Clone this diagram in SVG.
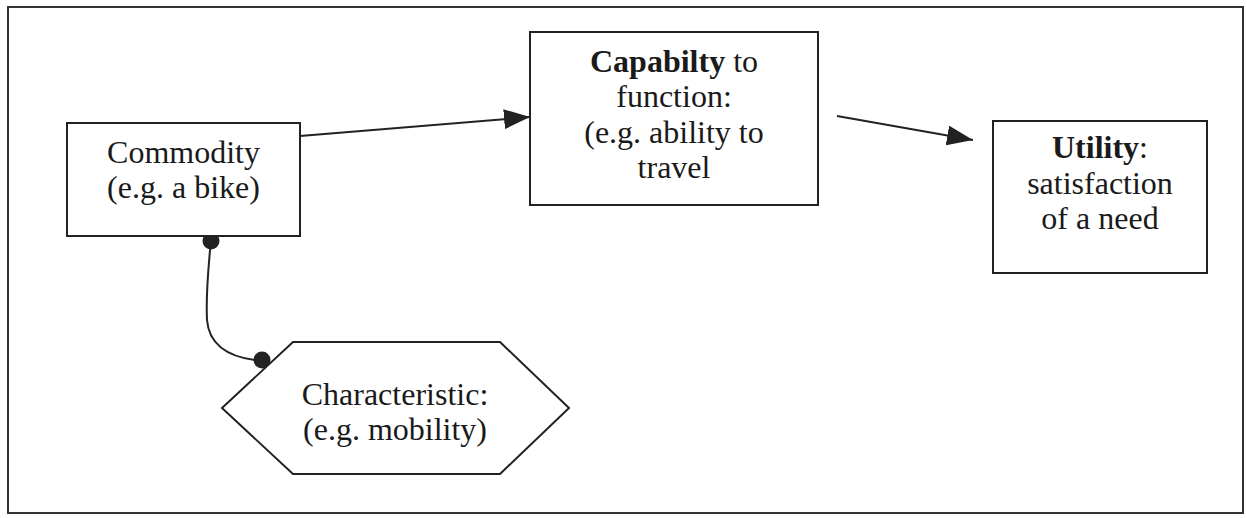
<svg xmlns="http://www.w3.org/2000/svg" width="1247" height="518" viewBox="0 0 1247 518">
<style>
.box{fill:#fff;stroke:#222;stroke-width:2}
.t{font-family:'Liberation Serif','DejaVu Serif',serif;font-size:32px;fill:#1a1a1a;text-anchor:middle}
.b{font-weight:bold}
.ln{fill:none;stroke:#222;stroke-width:2}
</style>
<defs>
<marker id="arr" markerUnits="userSpaceOnUse" markerWidth="28" markerHeight="20" refX="26" refY="10" orient="auto">
<path d="M0,0 L26,10 L0,20 Z" fill="#222"/>
</marker>
</defs>
<rect x="0" y="0" width="1247" height="518" fill="#fff"/>
<rect id="frame" x="8" y="7" width="1235" height="506" fill="none" stroke="#333" stroke-width="2"/>
<g id="connectors">
<line class="ln" x1="300" y1="136" x2="530" y2="117" marker-end="url(#arr)"/>
<line class="ln" x1="837" y1="116" x2="973" y2="140" marker-end="url(#arr)"/>
<path class="ln" d="M211,240 C208,270 206,300 207,320 C209,345 228,358 262,361"/>
<circle cx="211" cy="241" r="8.5" fill="#222"/>
<circle cx="262" cy="360" r="8.5" fill="#222"/>
</g>
<g id="commodity">
<rect class="box" x="67" y="123" width="233" height="113"/>
<text class="t" x="183.5" y="163">Commodity</text>
<text class="t" x="183.5" y="198">(e.g. a bike)</text>
</g>
<g id="capability">
<rect class="box" x="530" y="32" width="288" height="173"/>
<text class="t" x="674" y="72"><tspan class="b">Capabilty</tspan> to</text>
<text class="t" x="674" y="107">function:</text>
<text class="t" x="674" y="143">(e.g. ability to</text>
<text class="t" x="674" y="178">travel</text>
</g>
<g id="utility">
<rect class="box" x="993" y="121" width="214" height="152"/>
<text class="t" x="1100" y="158"><tspan class="b">Utility</tspan>:</text>
<text class="t" x="1100" y="194">satisfaction</text>
<text class="t" x="1100" y="229">of a need</text>
</g>
<g id="characteristic">
<polygon class="box" points="222,408 293,342 500,342 569,408 500,474 293,474"/>
<text class="t" x="395" y="405">Characteristic:</text>
<text class="t" x="395" y="440">(e.g. mobility)</text>
</g>
</svg>
